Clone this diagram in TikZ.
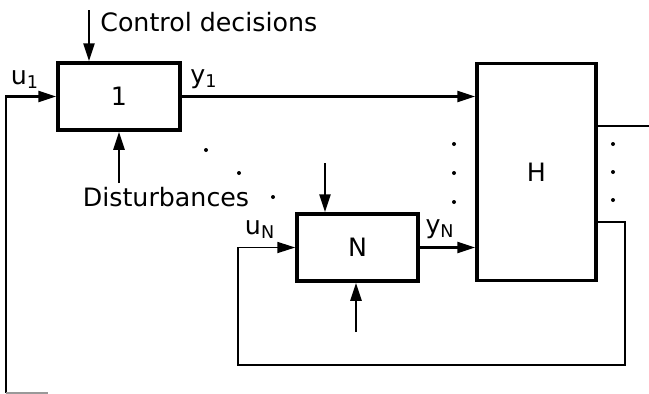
\documentclass[tikz,border=0pt]{standalone}
\usepackage{fontspec}
\setmainfont{DejaVu Sans}
\usetikzlibrary{arrows.meta}

\begin{document}
\begin{tikzpicture}[x=0.02cm, y=-0.02cm,
    blk/.style={draw, line width=2pt, rectangle, inner sep=0pt},
    arr/.style={line width=1.4pt, -{Triangle[length=0.36cm, width=0.22cm]}},
    lbl/.style={font=\fontsize{14.4pt}{16pt}\selectfont, inner sep=0pt}]
    \useasboundingbox (0,0) rectangle (649,393);

    % blocks
    \node[blk, minimum width=2.44cm, minimum height=1.34cm, lbl] (box1) at (119,96.5) {1};
    \node[blk, minimum width=2.42cm, minimum height=1.34cm, lbl] (boxN) at (357.5,247.5) {N};
    \node[blk, minimum width=2.38cm, minimum height=4.34cm, lbl] (boxH) at (536.5,172) {H};

    % free ends
    \coordinate (cd) at (89,10);
    \coordinate (dist) at (119,183);
    \coordinate (fb1) at (6,393);
    \coordinate (hout) at (649,126);
    \coordinate (hlow) at (596,222);
    \coordinate (lp) at (625,365);
    \coordinate (ntop) at (325,163);
    \coordinate (nbot) at (356,332);

    % block 1
    \draw[arr] (cd) -- (cd |- box1.north);
    \draw[arr] (dist) -- (box1.south);
    \draw[arr] (fb1) -- (fb1 |- box1.west) -- (box1.west);
    \draw[line width=0.6pt, black!40] (fb1) -- ++(42,0);
    \draw[arr] (box1.east) -- (box1.east -| boxH.west);

    % block N
    \draw[arr] (ntop) -- (ntop |- boxN.north);
    \draw[arr] (nbot) -- (nbot |- boxN.south);
    \draw[arr] (boxN.east) -- (boxN.east -| boxH.west);
    \draw[arr, line width=1pt] (hlow) -- (hlow -| lp) -- (lp) -- (238,365) -- (238,247.5) -- (boxN.west);

    % block H
    \draw[line width=1.4pt] (boxH.east |- hout) -- (hout);

    % labels
    \node[lbl, anchor=west] (ctl) at (100,22) {Control decisions};
    \node[lbl] (dst) at (166,197) {Disturbances};
    \node[lbl] (u1) at (25,79) {u\textsubscript{1}};
    \node[lbl] (y1) at (204,79) {y\textsubscript{1}};
    \node[lbl] (uN) at (260,229) {u\textsubscript{N}};
    \node[lbl] (yN) at (440,229) {y\textsubscript{N}};

    % dots
    \foreach \px/\py in {206/150, 239/173, 273/197, 454/144, 454/173, 454/202, 613/144, 613/172, 613/200}
        \fill (\px,\py) circle (0.04cm);
\end{tikzpicture}
\end{document}
